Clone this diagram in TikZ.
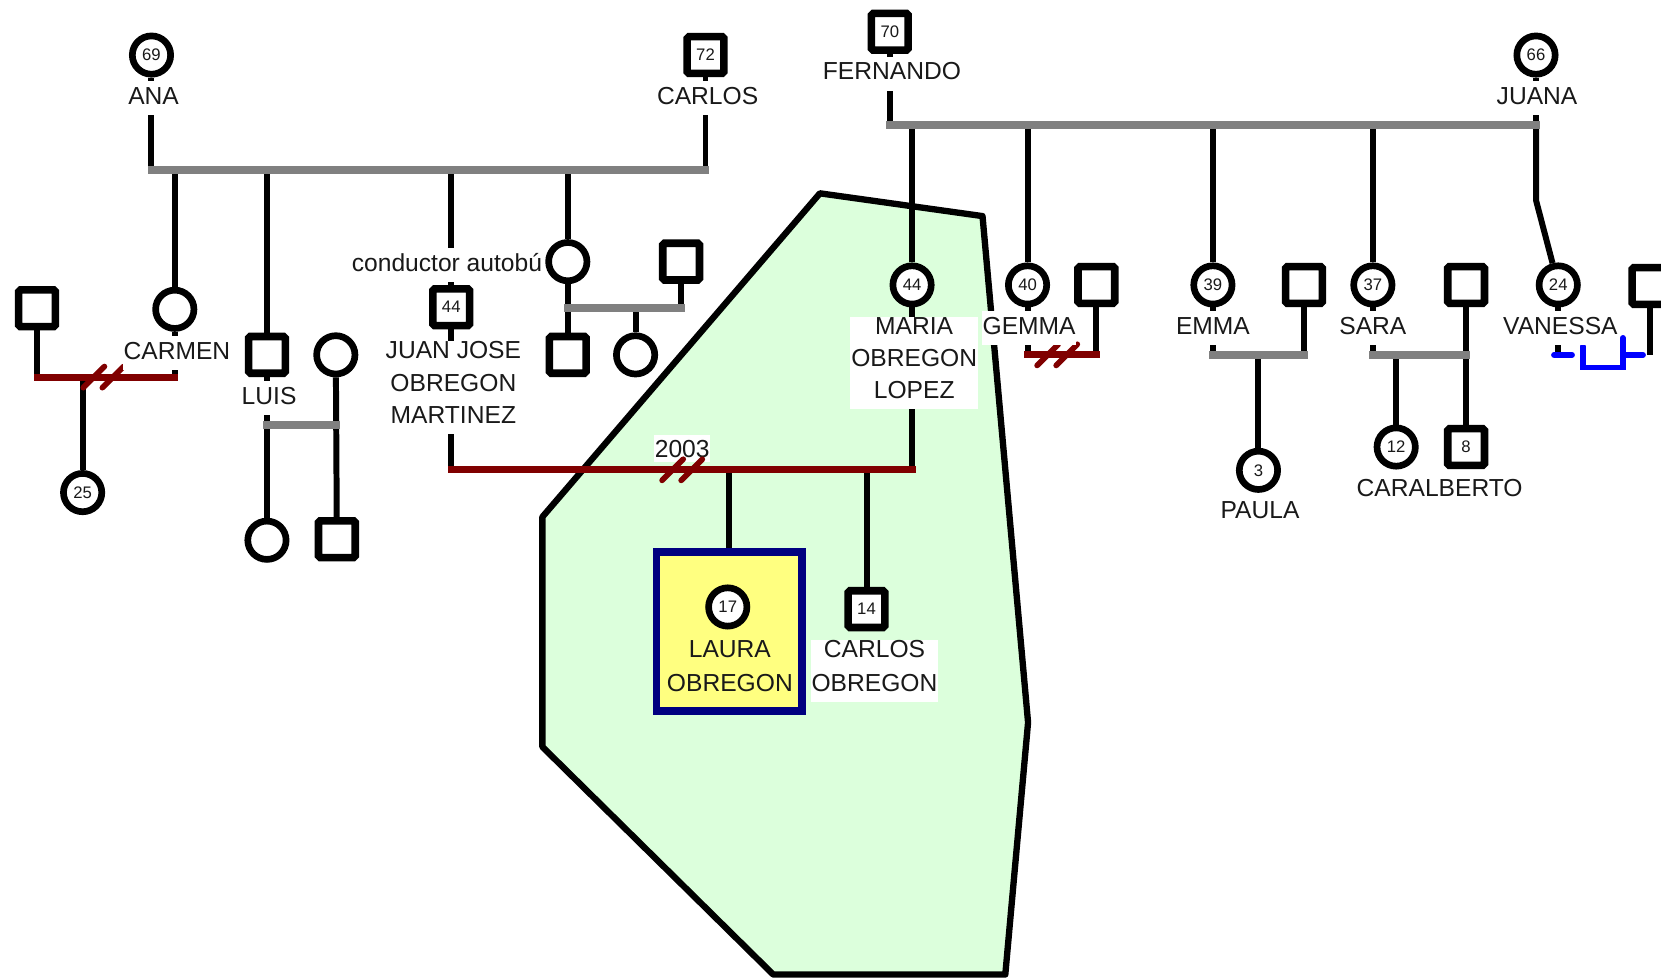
\documentclass[tikz,border=0pt]{standalone}
\usepackage{fontspec}
\setmainfont{Liberation Sans}
\usetikzlibrary{positioning, calc}

\definecolor{tie}{RGB}{128,128,128}
\definecolor{split}{RGB}{128,0,0}
\definecolor{zone}{RGB}{220,255,220}
\definecolor{focus}{RGB}{255,255,128}
\definecolor{focusline}{RGB}{0,0,128}
\definecolor{ink}{RGB}{25,25,25}

\newcommand{\cutmark}[1]{\draw[slashmark] ($(#1)+(-19,10)$) -- ++(20,-20) ($(#1)+(-1,10)$) -- ++(20,-20);}

\begin{document}
\begin{tikzpicture}[x=0.021186cm, y=-0.021186cm,
    fem/.style={circle, draw=black, fill=white, line width=3.8pt, minimum size=21.8pt, inner sep=0pt, text=ink, font=\fontsize{9.5}{11}\selectfont},
    mal/.style={rectangle, rounded corners=1pt, draw=black, fill=white, line width=4.3pt, minimum size=20.9pt, inner sep=0pt, text=ink, font=\fontsize{9.5}{11}\selectfont},
    lbl/.style={fill=white, inner xsep=0.5pt, inner ysep=0.5pt, text=ink, align=center, font=\fontsize{14}{18.3}\selectfont, execute at begin node=\strut, execute at end node=\strut},
    kid/.style={line width=3.4pt},
    tieline/.style={draw=tie, line width=4.5pt, line cap=rect},
    splitline/.style={draw=split, line width=4pt, line cap=rect},
    slashmark/.style={draw=split, line width=3.2pt, line cap=round},
    rel/.style={draw=blue, line width=3.3pt, line cap=round}]
    \useasboundingbox (0,0) rectangle (1568,924);
    \fill[white] (0,0) rectangle (1568,924);
    \draw[fill=zone, line width=3.6pt, line join=round] (774,182.5) -- (927.5,204) -- (970.5,682) -- (949,920) -- (730,920) -- (512,705) -- (512,488) -- cycle;
    \node[draw=focusline, fill=focus, line width=4.3pt, minimum width=82.8pt, minimum height=90.5pt, inner sep=0pt] (lauraBox) at (688.3,596.3) {};

    \node[fem] (ana) at (143,52) {69};
    \node[mal] (carlos) at (666,52) {72};
    \node[mal] (fernando) at (840,30) {70};
    \node[fem] (juana) at (1450,52) {66};
    \node[mal] (carmenH) at (35,291) {};
    \node[fem] (carmen) at (165,292) {};
    \node[fem] (carmenD) at (78,465) {25};
    \node[mal] (luis) at (252,335) {};
    \node[fem] (luisW) at (317,335) {};
    \node[fem] (luisD) at (252,510) {};
    \node[mal] (luisS) at (318,509) {};
    \node[mal] (juan) at (426,290) {44};
    \node[fem] (tia) at (536,247) {};
    \node[mal] (tiaH) at (643,247) {};
    \node[mal] (tiaS) at (536,335) {};
    \node[fem] (tiaD) at (600,335) {};
    \node[fem] (maria) at (861,269) {44};
    \node[fem] (gemma) at (970,269) {40};
    \node[mal] (gemmaH) at (1035,269) {};
    \node[fem] (emma) at (1145,269) {39};
    \node[mal] (emmaH) at (1231,269) {};
    \node[fem] (paula) at (1188,444) {3};
    \node[fem] (sara) at (1296,269) {37};
    \node[mal] (saraH) at (1384,269) {};
    \node[fem] (saraD) at (1318,422) {12};
    \node[mal] (saraS) at (1384,422) {8};
    \node[fem] (vanessa) at (1471,269) {24};
    \node[mal] (vanessaH) at (1558,270) {};
    \node[fem] (laura) at (687,573) {17};
    \node[mal] (carlosJ) at (818,575) {14};

    \node[fill=white, inner sep=0.5pt, text=ink, font=\fontsize{14}{18.3}\selectfont, text height=12pt, text depth=2.5pt, anchor=base] (year) at (644,431.6) {2003};

    \coordinate (b1) at (0,160.5);
    \coordinate (b2) at (0,118);
    \coordinate (b3) at (0,356);
    \coordinate (b4) at (0,401);
    \coordinate (b5) at (0,291);
    \coordinate (b6) at (0,443.5);
    \coordinate (b7) at (0,335);

    \draw[kid] (ana) -- (ana |- b1);
    \draw[kid] (carlos) -- (carlos |- b1);
    \foreach \p in {carmen, luis, juan, tia} \draw[kid] (\p |- b1) -- (\p);
    \draw[kid] (fernando) -- (fernando |- b2);
    \draw[kid] (juana) -- (juana |- b2);
    \foreach \p in {maria, gemma, emma, sara} \draw[kid] (\p |- b2) -- (\p);
    \draw[kid] (juana |- b2) -- ++(0,71) -- (vanessa);
    \draw[kid] (carmenH) -- (carmenH |- b3);
    \draw[kid] (carmen) -- (carmen |- b3);
    \draw[kid] (carmenD |- b3) -- (carmenD);
    \draw[kid] (luis) -- (luisD);
    \draw[kid] (luisW) -- (luisS);
    \draw[kid] (tia) -- (tiaS);
    \draw[kid] (tiaH) -- (tiaH |- b5);
    \draw[kid] (tiaD |- b5) -- (tiaD);
    \draw[kid] (juan) -- (juan |- b6);
    \draw[kid] (maria) -- (maria |- b6);
    \draw[kid] (lauraBox.north |- b6) -- (lauraBox.north);
    \draw[kid] (carlosJ |- b6) -- (carlosJ);
    \foreach \p in {gemma, gemmaH, emma, emmaH, sara, vanessa, vanessaH} \draw[kid] (\p) -- (\p |- b7);
    \draw[kid] (saraH) -- (saraS);
    \draw[kid] (paula |- b7) -- (paula);
    \draw[kid] (saraD |- b7) -- (saraD);

    \draw[tieline] (ana |- b1) -- (carlos |- b1);
    \draw[tieline] (fernando |- b2) -- (juana |- b2);
    \draw[splitline] (carmenH |- b3) -- (carmen |- b3);
    \draw[tieline] (luis |- b4) -- (luisW |- b4);
    \draw[tieline] (tia |- b5) -- (tiaH |- b5);
    \draw[splitline] (juan |- b6) -- (maria |- b6);
    \draw[splitline] (gemma |- b7) -- (gemmaH |- b7);
    \draw[tieline] (emma |- b7) -- (emmaH |- b7);
    \draw[tieline] (sara |- b7) -- (saraH |- b7);
    \cutmark{97.6,356}
    \cutmark{644,443.5}
    \cutmark{998,335}
    \draw[rel] (vanessa |- b7) ++(-4,0) -- ++(17,0);
    \draw[rel] (vanessa |- b7) ++(23,-8) -- ++(0,20) -- ++(38,0) -- ++(0,-28);
    \draw[rel] (vanessaH |- b7) ++(-7,0) -- ++(-18,0);

    \node[lbl, anchor=base] (anaL) at (145,99) {ANA};
    \node[lbl, anchor=base] (carlosL) at (668,99) {CARLOS};
    \node[lbl, anchor=base] (fernandoL) at (842,75.5) {FERNANDO};
    \node[lbl, anchor=base] (juanaL) at (1451,99) {JUANA};
    \node[lbl, anchor=base] (carmenL) at (167,339) {CARMEN};
    \node[lbl, anchor=base] (luisL) at (254,382) {LUIS};
    \node[lbl, anchor=base west] (juanJob) at (331,256.5) {conductor autobú};
    \node[lbl, anchor=north] (juanL) at (428,321.5) {JUAN JOSE\\OBREGON\\MARTINEZ};
    \node[lbl, anchor=north] (mariaL) at (863,298.5) {MARIA\\OBREGON\\LOPEZ};
    \node[lbl, anchor=base] (gemmaL) at (971.5,316) {GEMMA};
    \node[lbl, anchor=base] (emmaL) at (1145,316) {EMMA};
    \node[lbl, anchor=base] (saraL) at (1296,316) {SARA};
    \node[lbl, anchor=base] (vanessaL) at (1473,316) {VANESSA};
    \node[lbl, anchor=base] (paulaL) at (1189.5,489) {PAULA};
    \node[lbl, anchor=base] (saraSL) at (1359,469) {CARALBERTO};
    \node[lbl, anchor=north, fill=none, font=\fontsize{14}{19.2}\selectfont] (lauraL) at (689,603.5) {LAURA\\OBREGON};
    \node[lbl, anchor=north, font=\fontsize{14}{19.2}\selectfont] (carlosJL) at (825.5,603.5) {CARLOS\\OBREGON};
\end{tikzpicture}
\end{document}
